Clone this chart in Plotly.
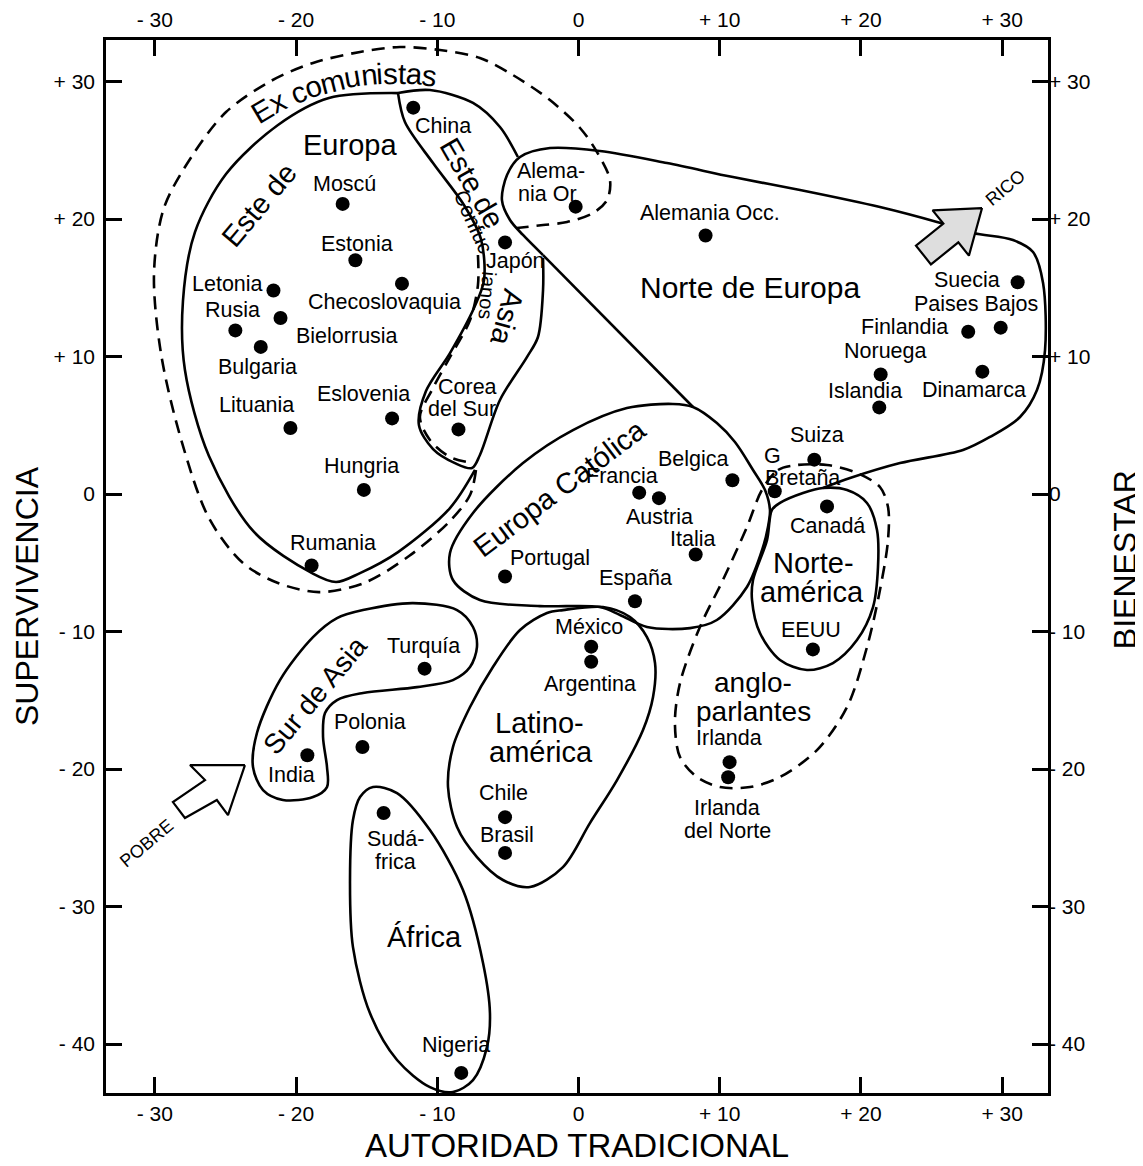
import math
import plotly.graph_objects as go

# ---------------- data ----------------
COUNTRIES = ["China", "Moscú", "Estonia", "Checoslovaquia", "Letonia", "Rusia", "Bielorrusia",
             "Bulgaria", "Lituania", "Eslovenia", "Hungria", "Rumania", "Alemania Or", "Japón",
             "Corea del Sur", "Alemania Occ.", "Suecia", "Paises Bajos", "Finlandia", "Noruega",
             "Dinamarca", "Islandia", "Suiza", "G Bretaña", "Canadá", "Belgica", "Francia",
             "Austria", "Italia", "Portugal", "España", "EEUU", "México", "Argentina", "Turquía",
             "Polonia", "India", "Irlanda", "Irlanda del Norte", "Chile", "Brasil", "Sudáfrica",
             "Nigeria"]
AUTORIDAD = [-11.7, -16.7, -15.8, -12.5, -21.6, -24.3, -21.1,
             -22.5, -20.4, -13.2, -15.2, -18.9, -0.2, -5.2,
             -8.5, 9.0, 31.1, 29.9, 27.6, 21.4,
             28.6, 21.3, 16.7, 13.9, 17.6, 10.9, 4.3,
             5.7, 8.3, -5.2, 4.0, 16.6, 0.9, 0.9, -10.9,
             -15.3, -19.2, 10.7, 10.6, -5.2, -5.2, -13.8,
             -8.3]
SUPERVIVENCIA = [28.1, 21.1, 17.0, 15.3, 14.8, 11.9, 12.8,
                 10.7, 4.8, 5.5, 0.3, -5.2, 20.9, 18.3,
                 4.7, 18.8, 15.4, 12.1, 11.8, 8.7,
                 8.9, 6.3, 2.5, 0.2, -0.9, 1.0, 0.1,
                 -0.3, -4.4, -6.0, -7.8, -11.3, -11.1, -12.2, -12.7,
                 -18.4, -19.0, -19.5, -20.6, -23.5, -26.1, -23.2,
                 -42.1]

X_TICKS = [-30, -20, -10, 0, 10, 20, 30]
X_TICKTEXT = ["- 30", "- 20", "- 10", "0", "+ 10", "+ 20", "+ 30"]
Y_TICKS = [30, 20, 10, 0, -10, -20, -30, -40]
Y_TICKTEXT = ["+ 30", "+ 20", "+ 10", "0", "- 10", "- 20", "- 30", "- 40"]

# region outlines (data coordinates)
EE_X = [-12.78, -17.67, -21.28, -24.96, -27.16, -28.01, -27.87, -26.17, -22.98, -18.87, -17.17, -15.47, -12.78, -9.10, -7.33]
EE_Y = [29.16, 28.80, 26.84, 23.27, 19.05, 14.04, 9.02, 2.76, -2.76, -5.75, -6.40, -5.75, -4.22, -1.02, 1.75]

CONF_X = [-12.78, -12.29, -10.30, -8.11, -6.91, -6.69, -7.40, -9.10, -10.80, -11.30, -10.30, -8.75, -7.54, -6.98, -5.56, -3.65, -2.87, -2.51, -2.51]
CONF_Y = [29.16, 27.05, 24.07, 21.02, 18.55, 15.56, 13.53, 10.25, 7.49, 5.02, 3.27, 2.25, 1.89, 2.84, 6.84, 9.96, 11.42, 14.84, 17.16]

CHINA_X = [-12.78, -10.52, -7.47, -5.56, -4.29]
CHINA_Y = [29.16, 29.38, 28.44, 26.69, 24.51]

ND_X = [-2.51, -3.93, -4.85, -5.42, -5.06, -4.14, -2.02, 1.52, 6.27, 10.94, 15.69, 21.35, 25.39, 27.94, 30.77, 32.19, 32.90, 33.04, 32.47, 31.27, 29.14, 27.23, 22.77, 19.23, 17.32]
ND_Y = [17.38, 18.84, 19.93, 21.38, 23.20, 24.51, 25.16, 24.95, 24.07, 23.05, 22.11, 20.87, 19.78, 18.98, 18.47, 17.60, 15.35, 10.47, 7.56, 5.60, 4.15, 3.20, 2.25, 1.16, 0.44]

DIAG_X = [-2.51, 8.11]
DIAG_Y = [17.38, 6.33]

EC_X = [8.11, 9.80, 11.08, 12.36, 13.21, 13.56, 13.42, 13.07, 11.93, 9.80, 7.90, 4.85, 2.94, 1.52, -2.73, -6.98, -8.89, -9.10, -7.47, -3.93, -0.39, 3.43, 6.69, 8.11]
EC_Y = [6.33, 5.16, 3.78, 1.75, 0.29, -1.16, -2.40, -3.85, -6.76, -9.16, -9.75, -9.67, -8.80, -8.22, -8.15, -7.71, -6.25, -4.29, -1.38, 2.25, 4.65, 6.25, 6.55, 6.33]

NA_X = [17.32, 15.90, 14.27, 13.70, 13.35, 12.36, 12.29, 12.85, 14.27, 16.18, 18.02, 19.72, 20.86, 21.21, 21.14, 20.43, 19.02, 17.32]
NA_Y = [0.44, 0.07, -0.65, -1.16, -3.35, -6.25, -7.71, -10.11, -12.07, -12.80, -12.29, -10.62, -8.22, -5.31, -2.62, -0.65, 0.29, 0.44]

LA_X = [-1.10, 1.74, 3.65, 4.85, 5.42, 5.28, 4.57, 2.73, 0.81, -1.10, -3.43, -5.35, -7.19, -8.60, -9.24, -8.89, -7.68, -6.06, -4.14, -2.23, -1.10]
LA_Y = [-8.44, -8.22, -8.95, -10.40, -12.29, -14.76, -17.16, -20.80, -23.93, -27.13, -28.58, -28.07, -26.40, -24.22, -21.31, -18.40, -15.49, -12.58, -9.89, -8.65, -8.44]

SA_X = [-15.26, -11.72, -8.60, -7.47, -7.19, -7.68, -8.89, -11.44, -15.26, -17.10, -17.95, -18.09, -17.81, -17.81, -18.80, -20.93, -22.34, -23.05, -22.77, -21.14, -18.80, -17.10, -15.26]
SA_Y = [-8.44, -7.93, -8.44, -9.67, -11.13, -12.58, -13.53, -14.04, -14.47, -14.98, -15.93, -17.67, -19.85, -21.31, -22.04, -22.25, -21.53, -19.85, -17.38, -13.53, -10.40, -9.02, -8.44]

AF_X = [-14.55, -12.85, -10.52, -8.18, -6.76, -6.27, -6.48, -7.47, -8.89, -10.52, -12.85, -14.77, -15.97, -16.18, -15.97, -15.47, -14.55]
AF_Y = [-21.31, -21.75, -24.44, -28.80, -34.11, -37.75, -40.22, -42.62, -43.49, -43.13, -41.16, -37.75, -32.95, -28.07, -23.71, -22.04, -21.31]

# dashed outlines
EXC1_X = [-7.12, -7.12, -7.68, -9.10, -10.38, -11.23, -10.52, -9.10, -7.47]
EXC1_Y = [17.38, 15.20, 12.65, 9.96, 7.56, 5.60, 3.93, 2.69, 2.25]
EXC2_X = [-7.26, -7.68, -9.10, -12.00, -15.19, -18.38, -21.28, -23.76, -26.17, -28.15, -29.57, -30.06, -29.36, -27.37, -24.96, -21.78, -18.80, -15.47, -12.64, -9.81, -6.98, -4.64, -2.02, 0.11, 1.31, 2.23, 2.02, 1.03, -0.81, -2.51, -4.36]
EXC2_Y = [1.75, -0.07, -1.96, -4.51, -6.47, -7.13, -6.47, -5.02, -1.75, 4.00, 10.25, 16.07, 20.80, 24.58, 27.78, 30.04, 31.35, 32.15, 32.51, 32.29, 31.71, 30.47, 28.65, 26.62, 24.87, 22.84, 21.38, 20.44, 19.78, 19.56, 19.35]

ANG_X = [12.99, 14.13, 15.47, 17.60, 19.72, 21.35, 21.92, 21.92, 21.35, 20.43, 19.02, 16.89, 14.27, 12.15, 10.02, 8.39, 7.19, 6.83, 7.19, 8.60, 10.23, 11.93, 12.99]
ANG_Y = [0.29, 1.75, 2.11, 2.11, 1.53, 0.51, -0.95, -3.35, -6.98, -11.13, -15.49, -18.62, -20.58, -21.31, -21.31, -20.58, -19.13, -16.65, -13.75, -9.67, -6.25, -2.40, 0.29]

# arrows
RICO_X = [28.58, 25.08, 25.84, 23.90, 24.96, 26.90, 27.65, 28.58]
RICO_Y = [20.80, 20.63, 19.67, 18.07, 16.70, 18.30, 17.34, 20.80]
POBRE_X = [-23.62, -27.51, -26.45, -28.72, -27.87, -25.61, -24.82, -23.62]
POBRE_Y = [-19.71, -19.71, -20.80, -22.40, -23.56, -22.25, -23.35, -19.71]

# ---------------- label placement (pixel offsets from each dot) ----------------
LABELS = {
    "China": [("China", 30, 18)],
    "Moscú": [("Moscú", 2, -20)],
    "Estonia": [("Estonia", 2, -16)],
    "Checoslovaquia": [("Checoslovaquia", -17, 18)],
    "Letonia": [("Letonia", -46, -7)],
    "Rusia": [("Rusia", -3, -20)],
    "Bielorrusia": [("Bielorrusia", 66, 18)],
    "Bulgaria": [("Bulgaria", -3, 20)],
    "Lituania": [("Lituania", -34, -23)],
    "Eslovenia": [("Eslovenia", -29, -24)],
    "Hungria": [("Hungria", -2, -24)],
    "Rumania": [("Rumania", 21, -23)],
    "Alemania Or": [("Alema-", -25, -36), ("nia Or", -28, -13)],
    "Japón": [("Japón", 10, 19)],
    "Corea del Sur": [("Corea", 9, -42), ("del Sur", 4, -20)],
    "Alemania Occ.": [("Alemania Occ.", 4, -23)],
    "Suecia": [("Suecia", -51, -2)],
    "Paises Bajos": [("Paises Bajos", -25, -24)],
    "Finlandia": [("Finlandia", -64, -5)],
    "Noruega": [("Noruega", 5, -23)],
    "Dinamarca": [("Dinamarca", -8, 18)],
    "Islandia": [("Islandia", -14, -16)],
    "Suiza": [("Suiza", 3, -25)],
    "G Bretaña": [("G", -2, -35), ("Bretaña", 28, -13)],
    "Canadá": [("Canadá", 0, 20)],
    "Belgica": [("Belgica", -39, -21)],
    "Francia": [("Francia", -17, -17)],
    "Austria": [("Austria", 1, 19)],
    "Italia": [("Italia", -3, -16)],
    "Portugal": [("Portugal", 45, -19)],
    "España": [("España", 1, -23)],
    "EEUU": [("EEUU", -2, -19)],
    "México": [("México", -2, -20)],
    "Argentina": [("Argentina", -1, 22)],
    "Turquía": [("Turquía", -1, -23)],
    "Polonia": [("Polonia", 8, -25)],
    "India": [("India", -16, 20)],
    "Irlanda": [("Irlanda", -1, -24)],
    "Irlanda del Norte": [("Irlanda", -1, 31), ("del Norte", -1, 54)],
    "Chile": [("Chile", -2, -24)],
    "Brasil": [("Brasil", 2, -18)],
    "Sudáfrica": [("Sudá-", 12, 26), ("frica", 12, 49)],
    "Nigeria": [("Nigeria", -5, -28)],
}

# group labels: text, x, y, angle, size
GROUPS = [
    ("Europa", -16.18, 25.38, 0, 29),
    ("Norte de Europa", 12.15, 15.05, 0, 30),
    ("Norte-", 16.61, -5.02, 0, 29),
    ("américa", 16.54, -7.13, 0, 29),
    ("anglo-", 12.36, -13.68, 0, 28),
    ("parlantes", 12.36, -15.78, 0, 28),
    ("Latino-", -2.73, -16.65, 0, 29),
    ("américa", -2.66, -18.76, 0, 29),
    ("África", -10.94, -32.22, 0, 29),
    ("Europa Católica", -1.31, 0.44, -37, 29),
    ("Sur de Asia", -18.66, -14.62, -50, 28),
    ("Este de", -22.63, 21.02, -50, 29),
    ("Este de", -7.54, 22.62, 60, 29),
    ("Confuc", -7.45, 19.80, 66, 21),
    ("ianos", -6.45, 14.40, 95, 20),
    ("Asia", -5.06, 12.87, 105, 29),
    ("RICO", 30.21, 22.25, -40, 18),
    ("POBRE", -30.56, -25.38, -40, 18),
]

# ---------------- layout geometry ----------------
PAGE_OFFSET = 8            # default body margin of the html page
W, H = 1143 - PAGE_OFFSET, 1166 - PAGE_OFFSET
ML, MT = 106 - PAGE_OFFSET, 40 - PAGE_OFFSET
PLOT_W, PLOT_H = 942, 1053
MR, MB = W - ML - PLOT_W, H - MT - PLOT_H
XR = [-33.46, 33.25]
YR = [-43.56, 33.02]
PX_X = PLOT_W / (XR[1] - XR[0])
PX_Y = PLOT_H / (YR[1] - YR[0])
FONT = "Liberation Sans, Arial, Helvetica, sans-serif"
LABEL_SIZE = 21.5

fig = go.Figure()


def outline(xs, ys, dash="solid", shape="spline"):
    fig.add_trace(go.Scatter(x=xs, y=ys, mode="lines",
                             line=dict(color="black", width=2.6, dash=dash, shape=shape, smoothing=0.9),
                             hoverinfo="skip", showlegend=False))


DASH = "13px,8px"
outline(EE_X, EE_Y)
outline(CONF_X, CONF_Y)
outline(CHINA_X, CHINA_Y)
outline(ND_X, ND_Y)
outline(DIAG_X, DIAG_Y, shape="linear")
outline(EC_X, EC_Y)
outline(NA_X, NA_Y)
outline(LA_X, LA_Y)
outline(SA_X, SA_Y)
outline(AF_X, AF_Y)
outline(EXC1_X, EXC1_Y, dash=DASH)
outline(EXC2_X, EXC2_Y, dash=DASH)
outline(ANG_X, ANG_Y, dash=DASH)

# arrows
fig.add_trace(go.Scatter(x=RICO_X, y=RICO_Y, mode="lines", fill="toself", fillcolor="#dedede",
                         line=dict(color="black", width=2.2), hoverinfo="skip", showlegend=False))
fig.add_trace(go.Scatter(x=POBRE_X, y=POBRE_Y, mode="lines", fill="toself", fillcolor="white",
                         line=dict(color="black", width=2.2), hoverinfo="skip", showlegend=False))

# dots
fig.add_trace(go.Scatter(x=AUTORIDAD, y=SUPERVIVENCIA, mode="markers", text=COUNTRIES,
                         marker=dict(color="black", size=14), hoverinfo="text", showlegend=False))

# dummy trace for top/right axes
fig.add_trace(go.Scatter(x=[0], y=[0], xaxis="x2", yaxis="y2", mode="markers",
                         marker=dict(opacity=0), hoverinfo="skip", showlegend=False))

annotations = []
for name, xv, yv in zip(COUNTRIES, AUTORIDAD, SUPERVIVENCIA):
    for txt, dx, dy in LABELS[name]:
        annotations.append(dict(x=xv, y=yv, xref="x", yref="y", text=txt, showarrow=False,
                                xshift=dx, yshift=-dy, xanchor="center", yanchor="middle",
                                font=dict(family=FONT, size=LABEL_SIZE, color="black")))

for txt, gx, gy, ang, sz in GROUPS:
    annotations.append(dict(x=gx, y=gy, xref="x", yref="y", text=txt, showarrow=False,
                            textangle=ang, xanchor="center", yanchor="middle",
                            font=dict(family=FONT, size=sz, color="black")))

# "Ex comunistas" along an arc
ARC_TEXT = "Ex comunistas"
ARC_SIZE = 29.5
EM = {"E": .667, "x": .5, " ": .278, "c": .5, "o": .556, "m": .833, "u": .556, "n": .556,
      "i": .222, "s": .5, "t": .278, "a": .556}
ARC_CX, ARC_CY = -12.90, 11.55
ARC_R = 262.0
ARC_MID = -12.0
widths = [EM[c] * ARC_SIZE for c in ARC_TEXT]
total = sum(widths)
s = -total / 2
for c, w in zip(ARC_TEXT, widths):
    sc = s + w / 2
    s += w
    if c == " ":
        continue
    a = math.radians(ARC_MID) + sc / ARC_R
    annotations.append(dict(x=ARC_CX + ARC_R * math.sin(a) / PX_X,
                            y=ARC_CY + ARC_R * math.cos(a) / PX_Y,
                            xref="x", yref="y", text=c, showarrow=False,
                            textangle=math.degrees(a), xanchor="center", yanchor="middle",
                            font=dict(family=FONT, size=ARC_SIZE, color="black")))

# axis titles
annotations.append(dict(x=0.5, y=0, xref="paper", yref="paper", yshift=-52, text="AUTORIDAD TRADICIONAL",
                        showarrow=False, xanchor="center", yanchor="middle",
                        font=dict(family=FONT, size=33, color="black")))
annotations.append(dict(x=0, y=0.472, xref="paper", yref="paper", xshift=-79, text="SUPERVIVENCIA",
                        showarrow=False, textangle=-90, xanchor="center", yanchor="middle",
                        font=dict(family=FONT, size=32, color="black")))
annotations.append(dict(x=1, y=0.506, xref="paper", yref="paper", xshift=77, text="BIENESTAR",
                        showarrow=False, textangle=-90, xanchor="center", yanchor="middle",
                        font=dict(family=FONT, size=32, color="black")))

tickfont = dict(family=FONT, size=21, color="black")
fig.update_layout(
    width=W, height=H,
    margin=dict(l=ML, r=MR, t=MT, b=MB, autoexpand=False),
    paper_bgcolor="white", plot_bgcolor="white",
    showlegend=False,
    annotations=annotations,
    xaxis=dict(range=XR, tickvals=X_TICKS, ticktext=X_TICKTEXT, ticks="inside", ticklen=16,
               tickwidth=3, tickcolor="black", showline=True, linewidth=2.6, linecolor="black",
               mirror="ticks", showgrid=False, zeroline=False, tickfont=tickfont, fixedrange=True),
    yaxis=dict(range=YR, tickvals=Y_TICKS, ticktext=Y_TICKTEXT, ticks="inside", ticklen=16,
               tickwidth=3, tickcolor="black", showline=True, linewidth=2.6, linecolor="black",
               mirror="ticks", showgrid=False, zeroline=False, tickfont=tickfont, fixedrange=True,
               ticklabelstandoff=4),
    xaxis2=dict(range=XR, overlaying="x", side="top", tickvals=X_TICKS, ticktext=X_TICKTEXT,
                ticks="", showline=False, showgrid=False, zeroline=False, tickfont=tickfont,
                anchor="y", fixedrange=True, ticklabelstandoff=8),
    yaxis2=dict(range=YR, overlaying="y", side="right", tickvals=Y_TICKS, ticktext=Y_TICKTEXT,
                ticks="", showline=False, showgrid=False, zeroline=False, tickfont=tickfont,
                anchor="x", fixedrange=True),
)

fig.write_html("out.html")
